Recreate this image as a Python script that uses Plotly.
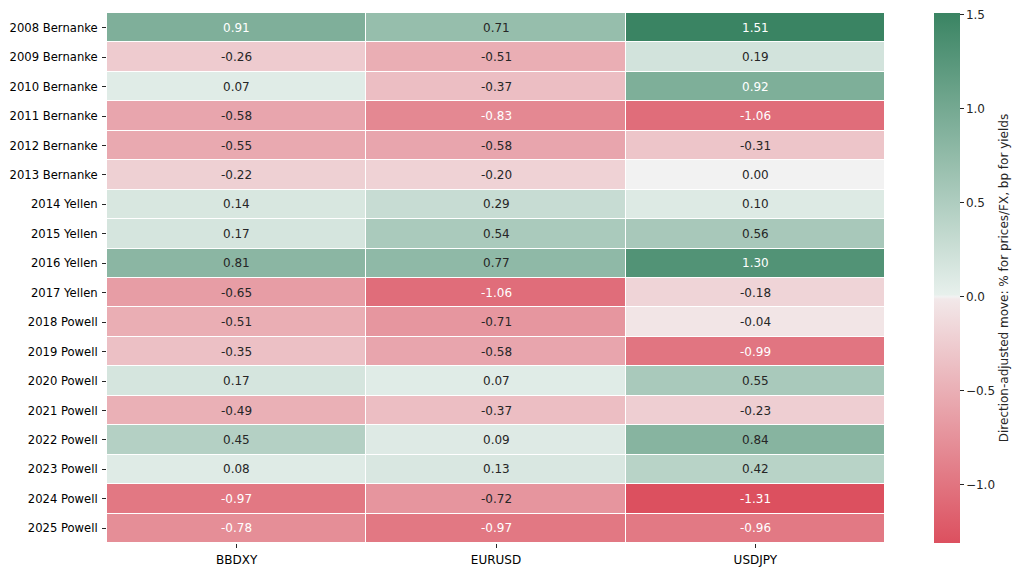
import plotly.graph_objects as go

rows = ["2008 Bernanke", "2009 Bernanke", "2010 Bernanke", "2011 Bernanke", "2012 Bernanke",
        "2013 Bernanke", "2014 Yellen", "2015 Yellen", "2016 Yellen", "2017 Yellen",
        "2018 Powell", "2019 Powell", "2020 Powell", "2021 Powell", "2022 Powell",
        "2023 Powell", "2024 Powell", "2025 Powell"]
cols = ["BBDXY", "EURUSD", "USDJPY"]

bbdxy = [0.91, -0.26, 0.07, -0.58, -0.55, -0.22, 0.14, 0.17, 0.81, -0.65,
         -0.51, -0.35, 0.17, -0.49, 0.45, 0.08, -0.97, -0.78]
eurusd = [0.71, -0.51, -0.37, -0.83, -0.58, -0.20, 0.29, 0.54, 0.77, -1.06,
          -0.71, -0.58, 0.07, -0.37, 0.09, 0.13, -0.72, -0.97]
usdjpy = [1.51, 0.19, 0.92, -1.06, -0.31, 0.00, 0.10, 0.56, 1.30, -0.18,
          -0.04, -0.99, 0.55, -0.23, 0.84, 0.42, -1.31, -0.96]

z = [list(r) for r in zip(bbdxy, eurusd, usdjpy)]
zmin = min(min(r) for r in z)
zmax = max(max(r) for r in z)

# diverging palette (red -> light grey -> green), centred on 0 like seaborn
RED = (217, 57, 74)
RED_T = (242, 232, 233)
MID = (242, 242, 242)
GRN_T = (231, 240, 236)
GRN = (58, 132, 99)
full_stops = [(0.0, RED), (0.496, RED_T), (0.5, MID), (0.504, GRN_T), (1.0, GRN)]
vr = max(zmax, -zmin)


def col_at(v):
    f = (v + vr) / (2 * vr)
    for (p0, c0), (p1, c1) in zip(full_stops[:-1], full_stops[1:]):
        if p0 <= f <= p1:
            t = (f - p0) / (p1 - p0)
            return tuple(a + t * (b - a) for a, b in zip(c0, c1))
    return full_stops[-1][1] if f > 1 else full_stops[0][1]


def rgb(c):
    return "rgb(%d,%d,%d)" % tuple(round(x) for x in c)


def lum(c):
    out = []
    for x in c:
        x = x / 255
        out.append(x / 12.92 if x <= 0.03928 else ((x + 0.055) / 1.055) ** 2.4)
    return 0.2126 * out[0] + 0.7152 * out[1] + 0.0722 * out[2]


cscale = [[0.0, rgb(col_at(zmin))]]
for p, c in full_stops:
    v = p * 2 * vr - vr
    if zmin < v < zmax:
        cscale.append([(v - zmin) / (zmax - zmin), rgb(c)])
cscale.append([1.0, rgb(col_at(zmax))])

fig = go.Figure(go.Heatmap(
    z=z, x=cols, y=rows, zmin=zmin, zmax=zmax, colorscale=cscale,
    xgap=1, ygap=1, hoverongaps=False,
    colorbar=dict(
        title=dict(text="Direction-adjusted move: % for prices/FX, bp for yields",
                   side="right", font=dict(size=12, color="#262626")),
        x=1.063, xanchor="left", y=0.5, len=1, thickness=26, outlinewidth=0,
        xpad=0, ypad=0,
        ticks="outside", ticklen=4, tickcolor="#262626",
        ticklabeloverflow="allow",
        tickvals=[-1.0, -0.5, 0.0, 0.5, 1.0, 1.5],
        ticktext=["\u22121.0", "\u22120.5", "0.0", "0.5", "1.0", "1.5"],
        tickfont=dict(size=12, color="#262626"),
    ),
))

annotations = []
for i, r in enumerate(rows):
    for j, c in enumerate(cols):
        v = z[i][j]
        annotations.append(dict(
            x=c, y=r, xref="x", yref="y", text="%.2f" % v, showarrow=False,
            font=dict(size=12, color="#262626" if lum(col_at(v)) > 0.395 else "white"),
        ))

# page body adds an 8px offset, so the figure is a little smaller than the window
fig.update_layout(
    width=1014, height=561,
    margin=dict(l=99, r=137, t=5, b=26),
    paper_bgcolor="white", plot_bgcolor="white",
    font=dict(family="DejaVu Sans", size=12, color="#262626"),
    annotations=annotations,
    xaxis=dict(showgrid=False, zeroline=False, ticks="outside", ticklen=4,
               automargin=False, tickcolor="#262626", ticklabelstandoff=2,
               tickfont=dict(size=12, color="black")),
    yaxis=dict(showgrid=False, zeroline=False, autorange="reversed", ticks="outside",
               ticklen=4, automargin=False, tickcolor="#262626", ticklabelstandoff=2,
               tickfont=dict(size=11.6, color="black")),
)

fig.write_html("out.html")
